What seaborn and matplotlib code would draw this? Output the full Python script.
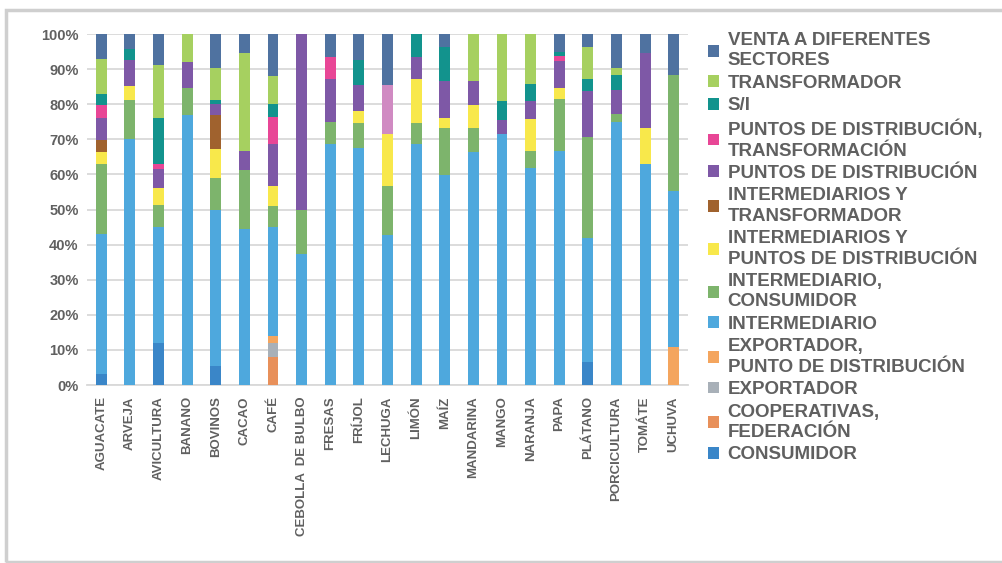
import matplotlib
matplotlib.use("Agg")
import matplotlib.pyplot as plt
from matplotlib.patches import Patch, Rectangle
from matplotlib.ticker import FuncFormatter
import numpy as np
import pandas as pd
import seaborn as sns

# Products (x axis)
categories = ["AGUACATE", "ARVEJA", "AVICULTURA", "BANANO", "BOVINOS", "CACAO", "CAFÉ",
              "CEBOLLA  DE BULBO", "FRESAS", "FRÍJOL", "LECHUGA", "LIMÓN", "MAÍZ",
              "MANDARINA", "MANGO", "NARANJA", "PAPA", "PLÁTANO", "PORCICULTURA",
              "TOMÁTE", "UCHUVA"]

# Share of each commercialisation channel per product (%), bottom to top
consumidor = [3.3, 0, 11.9, 0, 5.4, 0, 0, 0, 0, 0, 0, 0, 0, 0, 0, 0, 0, 6.7, 0, 0, 0]
cooperativas = [0, 0, 0, 0, 0, 0, 7.9, 0, 0, 0, 0, 0, 0, 0, 0, 0, 0, 0, 0, 0, 0]
exportador = [0, 0, 0, 0, 0, 0, 4.2, 0, 0, 0, 0, 0, 0, 0, 0, 0, 0, 0, 0, 0, 0]
exportador_punto = [0, 0, 0, 0, 0, 0, 1.9, 0, 0, 0, 0, 0, 0, 0, 0, 0, 0, 0, 0, 0, 10.8]
intermediario = [39.7, 70.0, 33.1, 76.9, 44.6, 44.4, 31.0, 37.3, 68.6, 67.6, 42.7, 68.6,
                 59.7, 66.4, 71.4, 61.9, 66.7, 35.2, 75.0, 63.0, 44.4]
intermediario_consumidor = [19.9, 11.2, 6.3, 7.7, 9.0, 16.8, 6.0, 12.7, 6.4, 7.0, 14.1, 6.0,
                            13.6, 6.9, 0, 4.8, 14.9, 28.9, 2.3, 0, 33.2]
intermediarios_puntos = [3.5, 4.0, 4.8, 0, 8.3, 0, 5.7, 0, 0, 3.5, 14.6, 12.5,
                         2.9, 6.4, 0, 9.2, 2.9, 0, 0, 10.3, 0]
intermediarios_transformador = [3.4, 0, 0, 0, 9.6, 0, 0, 0, 0, 0, 0, 0, 0, 0, 0, 0, 0, 0, 0, 0, 0]
puntos_distribucion = [6.4, 7.4, 5.5, 7.3, 3.1, 5.5, 11.9, 50.0, 12.1, 7.3, 0, 6.4,
                       10.3, 6.8, 4.1, 4.9, 7.7, 13.0, 6.7, 21.2, 0]
puntos_transformacion = [3.5, 0, 1.3, 0, 0, 0, 7.9, 0, 6.4, 0, 0, 0, 0, 0, 0, 0, 1.6, 0, 0, 0, 0]
otros = [0, 0, 0, 0, 0, 0, 0, 0, 0, 0, 14.0, 0, 0, 0, 0, 0, 0, 0, 0, 0, 0]
sin_informacion = [3.3, 3.1, 13.3, 0, 1.2, 0, 3.5, 0, 0, 7.2, 0, 6.5,
                   9.9, 0, 5.3, 5.1, 1.2, 3.3, 4.4, 0, 0]
transformador = [9.9, 0, 15.0, 8.1, 9.1, 27.8, 8.1, 0, 0, 0, 0, 0,
                 0, 13.5, 19.2, 14.1, 0, 9.3, 1.9, 0, 0]
venta_sectores = [7.1, 4.3, 8.8, 0, 9.7, 5.5, 11.9, 0, 6.5, 7.4, 14.6, 0,
                  3.6, 0, 0, 0, 5.0, 3.6, 9.7, 5.5, 11.6]

# (column, legend label, colour) stacked from the bottom up; None label = no legend entry
series = [
    ("consumidor", "CONSUMIDOR", "#3a86c8", consumidor),
    ("cooperativas", "COOPERATIVAS,\nFEDERACIÓN", "#e8905a", cooperativas),
    ("exportador", "EXPORTADOR", "#a8b0b8", exportador),
    ("exportador_punto", "EXPORTADOR,\nPUNTO DE DISTRIBUCIÓN", "#f4a55e", exportador_punto),
    ("intermediario", "INTERMEDIARIO", "#4ea8dd", intermediario),
    ("intermediario_consumidor", "INTERMEDIARIO,\nCONSUMIDOR", "#7db46c", intermediario_consumidor),
    ("intermediarios_puntos", "INTERMEDIARIOS Y\nPUNTOS DE DISTRIBUCIÓN", "#f8e84b", intermediarios_puntos),
    ("intermediarios_transformador", "INTERMEDIARIOS Y\nTRANSFORMADOR", "#a0622e", intermediarios_transformador),
    ("puntos_distribucion", "PUNTOS DE DISTRIBUCIÓN", "#7e58a6", puntos_distribucion),
    ("puntos_transformacion", "PUNTOS DE DISTRIBUCIÓN,\nTRANSFORMACIÓN", "#e84696", puntos_transformacion),
    ("otros", None, "#d08ac2", otros),
    ("sin_informacion", "S/I", "#12938d", sin_informacion),
    ("transformador", "TRANSFORMADOR", "#a6d060", transformador),
    ("venta_sectores", "VENTA A DIFERENTES\nSECTORES", "#4f72a0", venta_sectores),
]

df = pd.DataFrame({name: vals for name, _, _, vals in series}, index=categories)
df = df.div(df.sum(axis=1), axis=0) * 100
tops = df.cumsum(axis=1)

sns.set_theme(style="white")
plt.rcParams["font.family"] = ["Liberation Sans", "DejaVu Sans"]
text_color = "#606060"

fig = plt.figure(figsize=(10.03, 5.63), dpi=100)
ax = fig.add_axes([0.0867, 0.316, 0.5993, 0.6236])

# Draw from the top layer down so each lower layer covers the one above it
for name, label, color, _ in reversed(series):
    sns.barplot(x=categories, y=tops[name].values, order=categories, color=color,
                saturation=1, width=0.38, linewidth=0, ax=ax, zorder=3)

ax.set_xlim(-0.5, len(categories) - 0.5)
ax.set_ylim(0, 100)
ax.set_yticks(np.arange(0, 101, 10))
ax.yaxis.set_major_formatter(FuncFormatter(lambda v, _: f"{v:.0f}%"))
ax.grid(axis="y", color="#d9d9d9", linewidth=1.3, zorder=0)
ax.grid(axis="x", visible=False)
for side in ["top", "right", "left"]:
    ax.spines[side].set_visible(False)
ax.spines["bottom"].set_color("#d9d9d9")
ax.spines["bottom"].set_linewidth(1.3)
ax.tick_params(axis="y", length=0, pad=6, labelsize=10.5, labelcolor=text_color)
ax.tick_params(axis="x", length=0, pad=8, labelsize=9.5, labelcolor=text_color)
plt.setp(ax.get_xticklabels(), rotation=90, ha="center", va="top", fontweight="bold")
plt.setp(ax.get_yticklabels(), fontweight="bold")
ax.set_xlabel("")
ax.set_ylabel("")

handles = [Patch(facecolor=c, edgecolor="none") for _, lab, c, _ in reversed(series) if lab]
labels = [lab for _, lab, _, _ in reversed(series) if lab]
leg = fig.legend(handles, labels, loc="upper left", bbox_to_anchor=(708 / 1003, 1 - 32 / 563),
                 frameon=False, prop={"size": 13.5, "weight": "bold"},
                 handlelength=0.6, handleheight=0.6,
                 handletextpad=0.45, labelspacing=0.29, borderaxespad=0, borderpad=0)
for t in leg.get_texts():
    t.set_color(text_color)
    t.set_linespacing(1.26)

# Framed page border
fig.patches.append(Rectangle((6 / 1003, 1 / 563), 1.0, 552 / 563, transform=fig.transFigure,
                             fill=False, edgecolor="#cfcfcf", linewidth=2.5, zorder=0))

fig.savefig("out.png", dpi=100)
